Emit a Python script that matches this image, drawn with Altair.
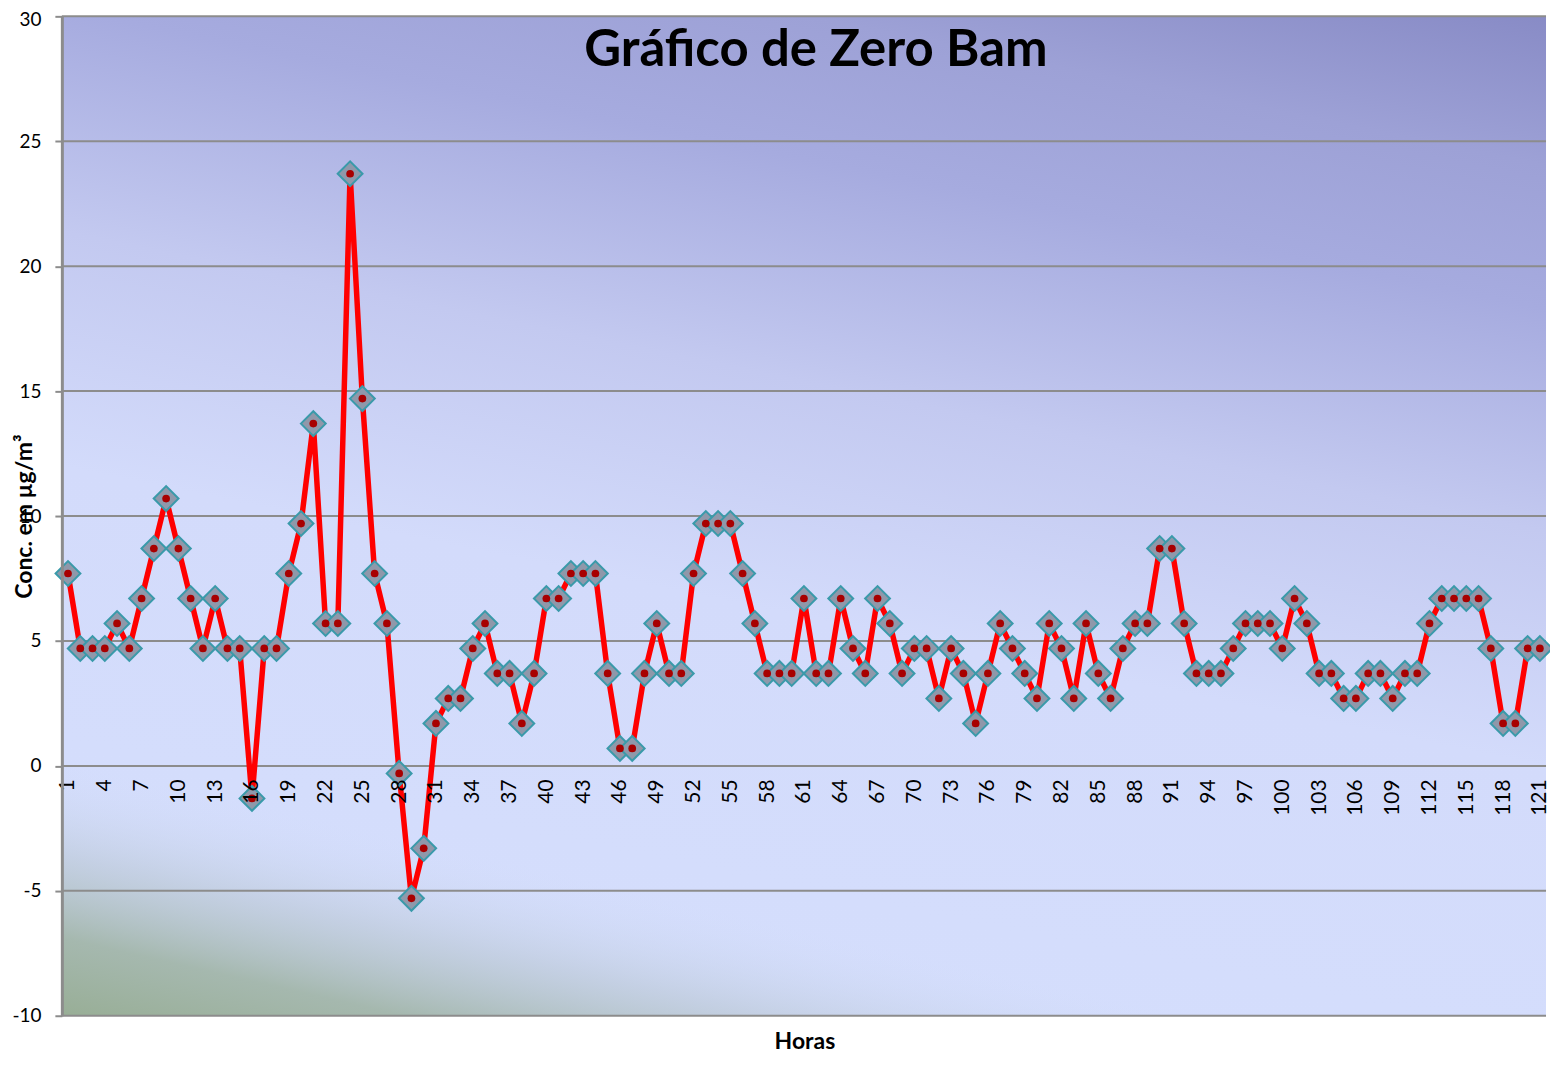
import altair as alt
import pandas as pd

# ---- data ----
hours = list(range(1, 122))
conc = [
    7.7, 4.7, 4.7, 4.7, 5.7, 4.7, 6.7, 8.7, 10.7, 8.7,
    6.7, 4.7, 6.7, 4.7, 4.7, -1.3, 4.7, 4.7, 7.7, 9.7,
    13.7, 5.7, 5.7, 23.7, 14.7, 7.7, 5.7, -0.3, -5.3, -3.3,
    1.7, 2.7, 2.7, 4.7, 5.7, 3.7, 3.7, 1.7, 3.7, 6.7,
    6.7, 7.7, 7.7, 7.7, 3.7, 0.7, 0.7, 3.7, 5.7, 3.7,
    3.7, 7.7, 9.7, 9.7, 9.7, 7.7, 5.7, 3.7, 3.7, 3.7,
    6.7, 3.7, 3.7, 6.7, 4.7, 3.7, 6.7, 5.7, 3.7, 4.7,
    4.7, 2.7, 4.7, 3.7, 1.7, 3.7, 5.7, 4.7, 3.7, 2.7,
    5.7, 4.7, 2.7, 5.7, 3.7, 2.7, 4.7, 5.7, 5.7, 8.7,
    8.7, 5.7, 3.7, 3.7, 3.7, 4.7, 5.7, 5.7, 5.7, 4.7,
    6.7, 5.7, 3.7, 3.7, 2.7, 2.7, 3.7, 3.7, 2.7, 3.7,
    3.7, 5.7, 6.7, 6.7, 6.7, 6.7, 4.7, 1.7, 1.7, 4.7,
    4.7,
]
x_ticks = list(range(1, 122, 3))
y_ticks = [-10, -5, 0, 5, 10, 15, 20, 25, 30]

title_text = "Gráfico de Zero Bam"
x_title = "Horas"
y_title = "Conc. em µg/m³"

W, H = 1488, 1002
FONT = "Lato"

df = pd.DataFrame({"hora": hours, "conc": conc})
grid_df = pd.DataFrame({"hora": [1] * len(y_ticks), "conc": y_ticks})
one = pd.DataFrame({"k": [0]})

xscale = alt.Scale(domain=[0.5, 121.5], nice=False, zero=False)
yscale = alt.Scale(domain=[-10, 30], nice=False, zero=False)

x_axis = alt.Axis(
    values=x_ticks, title=None, grid=False, domain=False, ticks=False,
    offset=-250.5, labelAngle=270, labelPadding=13,
    labelFont=FONT, labelFontSize=21, labelColor="black", zindex=1,
    labelOverlap=False,
)
y_axis = alt.Axis(
    values=y_ticks, grid=False, title=y_title,
    labelExpr="'' + datum.value",
    labelOffset={"expr": "datum.value == 30 ? 3 : 0"},
    titleX=-37, titleY=H / 2, titleAngle=270, titleAlign="center",
    titleBaseline="middle", titleFont=FONT, titleFontSize=23,
    titleFontWeight="bold", titleColor="black",
    domainColor="#8c8c8c", domainWidth=3,
    tickColor="#8c8c8c", tickSize=7, tickWidth=2,
    labelPadding=14, labelFont=FONT, labelFontSize=19, labelColor="black",
    zindex=1,
)
X = alt.X("hora:Q", scale=xscale, axis=x_axis)
Y = alt.Y("conc:Q", scale=yscale, axis=y_axis)

# background gradients
bg = alt.Chart(one).mark_rect(
    color=alt.LinearGradient(
        gradient="linear",
        x1=0, y1=1, x2=0.36, y2=-0.2,
        stops=[
            alt.GradientStop(offset=0, color="#d5dffd"),
            alt.GradientStop(offset=0.42, color="#d3dbfb"),
            alt.GradientStop(offset=0.6, color="#c3c9f0"),
            alt.GradientStop(offset=0.77, color="#a6abdf"),
            alt.GradientStop(offset=0.88, color="#9da1d6"),
            alt.GradientStop(offset=1, color="#878ac5"),
        ],
    )
).encode(x=alt.value(0), x2=alt.value(W), y=alt.value(0), y2=alt.value(H))

green = alt.Chart(one).mark_rect(
    color=alt.LinearGradient(
        gradient="linear",
        x1=0, y1=1, x2=0.406, y2=0.615,
        stops=[
            alt.GradientStop(offset=0, color="rgba(152,174,150,1)"),
            alt.GradientStop(offset=0.3, color="rgba(160,180,166,0.9)"),
            alt.GradientStop(offset=0.62, color="rgba(186,199,212,0.6)"),
            alt.GradientStop(offset=1, color="rgba(212,222,252,0)"),
        ],
    )
).encode(x=alt.value(0), x2=alt.value(W), y=alt.value(H - 320), y2=alt.value(H))

grid = alt.Chart(grid_df).mark_rule(color="#8c8c8c", strokeWidth=2).encode(y=Y)

line = alt.Chart(df).mark_line(color="#ff0000", strokeWidth=5.5).encode(x=X, y=Y)

pts = alt.Chart(df).mark_point(
    shape="diamond", filled=True, size=620, fill="#8f98aa", fillOpacity=1,
    stroke="#3a9aaa", strokeWidth=2, opacity=1,
).encode(x=X, y=Y)

dots = alt.Chart(df).mark_circle(size=60, color="#a80000", opacity=1).encode(x=X, y=Y)

title = alt.Chart(one).mark_text(
    text=title_text, font=FONT, fontSize=51, fontWeight="bold", color="black",
    align="center", baseline="middle",
).encode(x=alt.value(756), y=alt.value(35))

xlab = alt.Chart(one).mark_text(
    text=x_title, font=FONT, fontSize=23, fontWeight="bold", color="black",
    align="center", baseline="alphabetic",
).encode(x=alt.value(745), y=alt.value(1035))

chart = alt.layer(bg, green, grid, line, pts, dots, title, xlab).properties(
    width=W, height=H,
    autosize="none",
    padding={"left": 54, "top": 7, "right": 4, "bottom": 40},
    background="white",
).configure_view(stroke=None)

chart.save("out.html", embed_options={"renderer": "svg", "actions": False})
